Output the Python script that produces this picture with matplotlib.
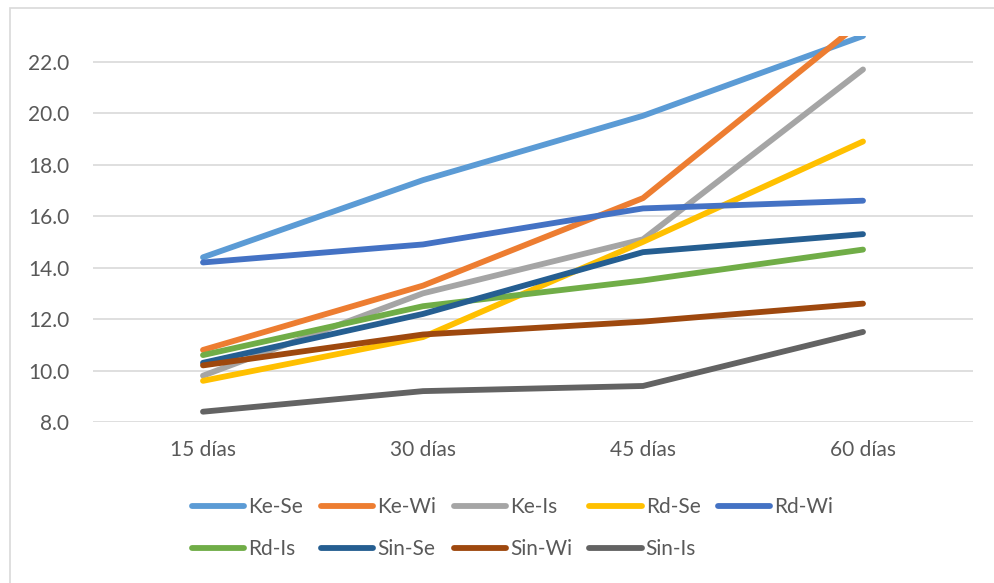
import matplotlib.pyplot as plt
from matplotlib.patches import Rectangle

# periods and series values
periods = ['15 días', '30 días', '45 días', '60 días']
ke_se = [14.4, 17.4, 19.9, 23.0]
ke_wi = [10.8, 13.3, 16.7, 23.6]
ke_is = [9.8, 13.0, 15.1, 21.7]
rd_se = [9.6, 11.3, 15.0, 18.9]
rd_wi = [14.2, 14.9, 16.3, 16.6]
rd_is = [10.6, 12.5, 13.5, 14.7]
sin_se = [10.3, 12.2, 14.6, 15.3]
sin_wi = [10.2, 11.4, 11.9, 12.6]
sin_is = [8.4, 9.2, 9.4, 11.5]

series = [
    ('Ke-Se', ke_se, '#5B9BD5'),
    ('Ke-Wi', ke_wi, '#ED7D31'),
    ('Ke-Is', ke_is, '#A5A5A5'),
    ('Rd-Se', rd_se, '#FFC000'),
    ('Rd-Wi', rd_wi, '#4472C4'),
    ('Rd-Is', rd_is, '#70AD47'),
    ('Sin-Se', sin_se, '#255E91'),
    ('Sin-Wi', sin_wi, '#9E480E'),
    ('Sin-Is', sin_is, '#636363'),
]

plt.rcParams['font.family'] = ['Lato', 'DejaVu Sans']
txt = '#595959'

fig = plt.figure(figsize=(9.95, 5.83), dpi=100)
ax = fig.add_axes([93 / 995, 1 - 422 / 583, 880 / 995, 386 / 583])

x = range(len(periods))
handles = {}
for name, vals, col in series:
    ln, = ax.plot(x, vals, color=col, lw=4.2, solid_capstyle='round',
                  solid_joinstyle='round', label=name)
    handles[name] = ln

ax.set_xlim(-0.5, len(periods) - 0.5)
ax.set_ylim(8, 23)
ax.set_yticks(range(8, 23, 2))
ax.set_yticklabels([f'{v:.1f}' for v in range(8, 23, 2)])
ax.set_xticks(list(x))
ax.set_xticklabels(periods)
ax.tick_params(length=0, labelsize=15, colors=txt)
ax.tick_params(axis='y', pad=17)
ax.tick_params(axis='x', pad=13)
ax.grid(axis='y', color='#D9D9D9', lw=1.2)
ax.set_axisbelow(True)
for s in ax.spines.values():
    s.set_visible(False)

# legend laid out row by row: matplotlib fills columns first
order = ['Ke-Se', 'Rd-Is', 'Ke-Wi', 'Sin-Se', 'Ke-Is', 'Sin-Wi',
         'Rd-Se', 'Sin-Is', 'Rd-Wi']
leg = fig.legend([handles[n] for n in order], order, ncol=5,
                 loc='upper left', bbox_to_anchor=(192 / 995, 1 - 497 / 583),
                 frameon=False, fontsize=15, handlelength=2.5,
                 handletextpad=0.2, columnspacing=0.85, labelspacing=1.05,
                 borderpad=0, borderaxespad=0)
for t in leg.get_texts():
    t.set_color(txt)

# chart area border
fig.patches.append(Rectangle((10 / 995, -0.1), 1.2, 1.1 - 8 / 583,
                             transform=fig.transFigure, fill=False,
                             edgecolor='#D9D9D9', lw=1.2))

fig.savefig('out.png', dpi=100)
